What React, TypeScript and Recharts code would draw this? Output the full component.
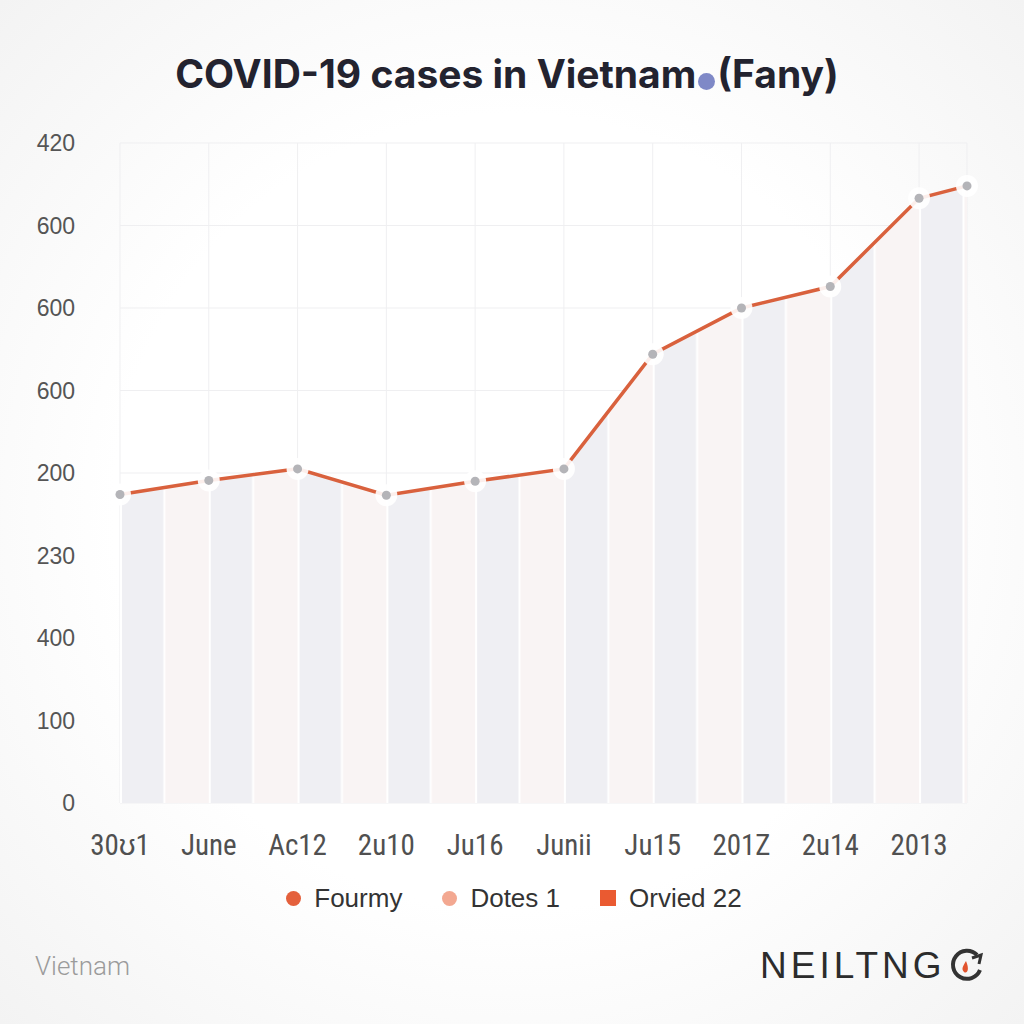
import React from "react";
import { ComposedChart, Area, Line, XAxis, YAxis, CartesianGrid } from "recharts";

// ===== Data =====
const xLabels = ["30ʊ1", "June", "Ac12", "2u10", "Ju16", "Junii", "Ju15", "201Z", "2u14", "2013"];
const yLabels = ["0", "100", "400", "230", "200", "600", "600", "600", "420"];
const pointX = [0, 1, 2, 3, 4, 5, 6, 7, 8, 9, 9.54];
const cases = [3.74, 3.91, 4.05, 3.73, 3.9, 4.05, 5.44, 6.0, 6.26, 7.33, 7.48];

const legendItems = [
  { name: "Fourmy", color: "#e4603c", shape: "circle" },
  { name: "Dotes 1", color: "#f3a891", shape: "circle" },
  { name: "Orvied 22", color: "#ea5a31", shape: "square" },
];

const data = pointX.map((x, i) => ({ x, cases: cases[i] }));

// ===== Layout =====
const CHART_W = 1024;
const CHART_H = 880;
const MARGIN = { top: 143, right: 57, bottom: 17, left: 0 };
const YAXIS_W = 120;
const X_MAX = pointX[pointX.length - 1];
const PLOT_LEFT = MARGIN.left + YAXIS_W;
const STEP = (CHART_W - PLOT_LEFT - MARGIN.right) / X_MAX;

// dot with a white halo so the line looks broken round each point
const HaloDot = (props: any) => {
  const { cx, cy, index } = props;
  return (
    <g key={`dot-${index}`}>
      <circle cx={cx} cy={cy} r={11} fill="#ffffff" fillOpacity={0.9} />
      <circle cx={cx} cy={cy} r={4.5} fill="#b4b4b8" />
    </g>
  );
};

export default function App() {
  return (
    <div
      style={{
        position: "absolute",
        left: 0,
        top: 0,
        width: 1024,
        height: 1024,
        overflow: "hidden",
        background: "radial-gradient(ellipse at center, #ffffff 55%, #f3f3f3 100%)",
      }}
    >
      {/* title */}
      <div
        style={{
          position: "absolute",
          top: 44,
          left: 0,
          width: 1024,
          textAlign: "center",
          fontFamily: "Inter, 'Liberation Sans', sans-serif",
          fontWeight: 700,
          fontSize: 39,
          lineHeight: "60px",
          color: "#23232f",
          paddingRight: 10,
          boxSizing: "border-box",
        }}
      >
        COVID-19 cases in Vietnam
        <span
          style={{
            display: "inline-block",
            width: 17,
            height: 17,
            borderRadius: "50%",
            background: "#7f89c7",
            margin: "0 2px 0 2px",
            verticalAlign: "-2px",
          }}
        />
        (Fany)
      </div>

      <div style={{ position: "absolute", left: 0, top: 0 }}>
        <ComposedChart width={CHART_W} height={CHART_H} data={data} margin={MARGIN}>
          <defs>
            <pattern
              id="bands"
              patternUnits="userSpaceOnUse"
              x={PLOT_LEFT}
              y={0}
              width={STEP}
              height={CHART_H}
            >
              <rect x={0} y={0} width={STEP / 2} height={CHART_H} fill="#efeff3" />
              <rect x={STEP / 2} y={0} width={STEP / 2} height={CHART_H} fill="#f9f4f4" />
              <rect x={0} y={0} width={2} height={CHART_H} fill="#ffffff" />
              <rect x={STEP / 2 - 1} y={0} width={2} height={CHART_H} fill="#ffffff" />
            </pattern>
          </defs>
          <CartesianGrid stroke="#efeff1" strokeWidth={1} />
          <XAxis
            dataKey="x"
            type="number"
            domain={[0, X_MAX]}
            ticks={[0, 1, 2, 3, 4, 5, 6, 7, 8, 9]}
            interval={0}
            tickFormatter={(v: number) => xLabels[v]}
            axisLine={false}
            tickLine={false}
            tickSize={0}
            tickMargin={31}
            height={60}
            tick={{
              fill: "#505050",
              fontSize: 29,
              fontFamily: "'Liberation Sans Narrow', 'Roboto Condensed', sans-serif",
            }}
          />
          <YAxis
            type="number"
            domain={[0, 8]}
            ticks={[0, 1, 2, 3, 4, 5, 6, 7, 8]}
            interval={0}
            tickFormatter={(v: number) => yLabels[v]}
            axisLine={false}
            tickLine={false}
            tickSize={0}
            tickMargin={45}
            width={YAXIS_W}
            tick={{ fill: "#555555", fontSize: 23, fontFamily: "'Liberation Sans', sans-serif" }}
          />
          <Area
            type="linear"
            dataKey="cases"
            stroke="none"
            fill="url(#bands)"
            fillOpacity={1}
            isAnimationActive={false}
          />
          <Line
            type="linear"
            dataKey="cases"
            stroke="#d9613d"
            strokeWidth={3.5}
            dot={HaloDot}
            activeDot={false}
            isAnimationActive={false}
          />
        </ComposedChart>
      </div>

      {/* legend */}
      <div
        style={{
          position: "absolute",
          top: 880,
          left: 0,
          width: 1028,
          display: "flex",
          justifyContent: "center",
          gap: 40,
          fontFamily: "'Liberation Sans', sans-serif",
          fontSize: 26,
          color: "#333333",
          lineHeight: "36px",
        }}
      >
        {legendItems.map((item) => (
          <div key={item.name} style={{ display: "flex", alignItems: "center" }}>
            <span
              style={{
                display: "inline-block",
                width: item.shape === "square" ? 16 : 15,
                height: item.shape === "square" ? 16 : 15,
                borderRadius: item.shape === "square" ? 0 : "50%",
                background: item.color,
                marginRight: 13,
              }}
            />
            {item.name}
          </div>
        ))}
      </div>

      {/* footer */}
      <div
        style={{
          position: "absolute",
          left: 35,
          top: 951,
          fontFamily: "Roboto, sans-serif",
          fontWeight: 300,
          fontSize: 26,
          color: "#9b9b9b",
        }}
      >
        Vietnam
      </div>
      <div
        style={{
          position: "absolute",
          left: 760,
          top: 945,
          display: "flex",
          alignItems: "center",
          fontFamily: "'Liberation Sans Narrow', sans-serif",
          fontSize: 37,
          letterSpacing: 4,
          color: "#2c2c2c",
        }}
      >
        NEILTNG
        <svg width={40} height={40} viewBox="0 0 40 40" style={{ marginLeft: 0 }}>
          <path d="M31 9 A14 14 0 1 0 34 24" fill="none" stroke="#333" strokeWidth={4} />
          <path d="M26 12 L35 9 L33 18" fill="none" stroke="#333" strokeWidth={3} />
          <path d="M20 15 C17 20 15 23 18 26 C21 28 24 24 20 15 Z" fill="#e2542e" />
        </svg>
      </div>
    </div>
  );
}
